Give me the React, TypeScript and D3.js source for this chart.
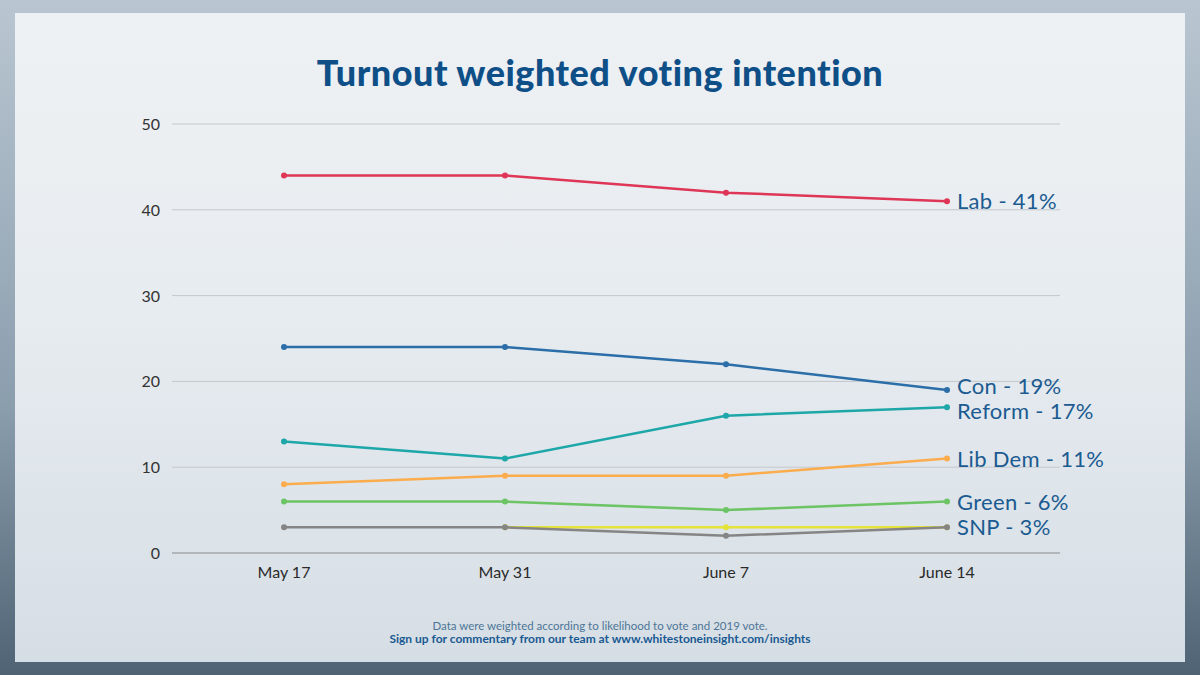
import { useEffect, useRef } from "react";
import * as d3 from "d3";

// Poll dates on the x axis
const dates = ["May 17", "May 31", "June 7", "June 14"];

// Party series (null = not polled that week)
const parties = ["Lab", "Con", "Reform", "Lib Dem", "Green", "SNP", "Other"];
const lab = [44, 44, 42, 41];
const con = [24, 24, 22, 19];
const reform = [13, 11, 16, 17];
const libDem = [8, 9, 9, 11];
const green = [6, 6, 5, 6];
const snp = [3, 3, 2, 3];
const other = [null, 3, 3, 3];
const partyColors = ["#df3556", "#2b6ea8", "#1ea7a8", "#fbac4c", "#6cc464", "#858585", "#e3e33a"];
const labelled = [true, true, true, true, true, true, false];

const yTicks = [0, 10, 20, 30, 40, 50];

const title = "Turnout weighted voting intention";
const footnote = "Data were weighted according to likelihood to vote and 2019 vote.";
const signup = "Sign up for commentary from our team at www.whitestoneinsight.com/insights";

function App() {
  const ref = useRef(null);

  useEffect(() => {
    const width = 1200;
    const height = 675;
    const font = "Lato, 'Open Sans', sans-serif";
    const values = [lab, con, reform, libDem, green, snp, other];

    const root = d3.select(ref.current);
    root.selectAll("*").remove();

    const svg = root
      .append("svg")
      .attr("width", width)
      .attr("height", height)
      .style("display", "block");

    // Background imitating the faded photo behind the panel
    const defs = svg.append("defs");
    const bg = defs.append("linearGradient").attr("id", "bg").attr("x1", 0).attr("y1", 0).attr("x2", 0).attr("y2", 1);
    bg.append("stop").attr("offset", "0%").attr("stop-color", "#b9c6d1");
    bg.append("stop").attr("offset", "60%").attr("stop-color", "#8b9eae");
    bg.append("stop").attr("offset", "100%").attr("stop-color", "#4f6374");
    const panel = defs.append("linearGradient").attr("id", "panel").attr("x1", 0).attr("y1", 0).attr("x2", 0).attr("y2", 1);
    panel.append("stop").attr("offset", "0%").attr("stop-color", "#eef1f4");
    panel.append("stop").attr("offset", "45%").attr("stop-color", "#e7ecf0");
    panel.append("stop").attr("offset", "100%").attr("stop-color", "#d6dee5");

    svg.append("rect").attr("width", width).attr("height", height).attr("fill", "url(#bg)");
    svg.append("rect")
      .attr("x", 15).attr("y", 13)
      .attr("width", 1170).attr("height", 649)
      .attr("fill", "url(#panel)");

    // Title
    svg.append("text")
      .attr("x", 600).attr("y", 86)
      .attr("text-anchor", "middle")
      .attr("font-family", font)
      .attr("font-weight", 900)
      .attr("font-size", 36)
      .attr("letter-spacing", 0.5)
      .attr("fill", "#0e4f87")
      .text(title);

    const x = d3.scalePoint().domain(dates).range([284, 947]);
    const y = d3.scaleLinear().domain([0, 50]).range([553, 124]);

    // Gridlines and y labels
    const grid = svg.append("g");
    grid.selectAll("line")
      .data(yTicks)
      .enter()
      .append("line")
      .attr("x1", 172).attr("x2", 1060)
      .attr("y1", (d) => y(d)).attr("y2", (d) => y(d))
      .attr("stroke", (d) => (d === 0 ? "#8c8c8c" : "#c4c8cc"))
      .attr("stroke-width", 1);
    grid.selectAll("text")
      .data(yTicks)
      .enter()
      .append("text")
      .attr("x", 160).attr("y", (d) => y(d) + 6)
      .attr("text-anchor", "end")
      .attr("font-family", font)
      .attr("font-size", 16)
      .attr("fill", "#333")
      .text((d) => d);

    // X labels
    svg.append("g")
      .selectAll("text")
      .data(dates)
      .enter()
      .append("text")
      .attr("x", (d) => x(d))
      .attr("y", 578)
      .attr("text-anchor", "middle")
      .attr("font-family", font)
      .attr("font-size", 16)
      .attr("fill", "#2a2a2a")
      .text((d) => d);

    // Lines, drawn bottom-up so the larger parties sit on top
    const line = d3
      .line()
      .defined((d) => d[1] != null)
      .x((d) => x(d[0]))
      .y((d) => y(d[1]));

    const order = [6, 5, 4, 3, 2, 1, 0];
    order.forEach((i) => {
      const pts = dates.map((d, j) => [d, values[i][j]]);
      svg.append("path")
        .attr("d", line(pts))
        .attr("fill", "none")
        .attr("stroke", partyColors[i])
        .attr("stroke-width", 2.5)
        .attr("stroke-linejoin", "round");
      svg.append("g")
        .selectAll("circle")
        .data(pts.filter((p) => p[1] != null))
        .enter()
        .append("circle")
        .attr("cx", (p) => x(p[0]))
        .attr("cy", (p) => y(p[1]))
        .attr("r", 3)
        .attr("fill", partyColors[i]);
    });

    // End labels, nudged apart where they would collide
    const last = dates[dates.length - 1];
    const minGap = 25;
    const labels = parties
      .map((p, i) => ({ name: p, value: values[i][dates.length - 1], ok: labelled[i] }))
      .filter((d) => d.ok)
      .map((d) => ({ ...d, pos: y(d.value) }))
      .sort((a, b) => a.pos - b.pos);
    for (let k = 1; k < labels.length; k++) {
      const gap = labels[k].pos - labels[k - 1].pos;
      if (gap < minGap) {
        const shift = (minGap - gap) / 2;
        labels[k - 1].pos -= shift;
        labels[k].pos += shift;
      }
    }
    svg.append("g")
      .selectAll("text")
      .data(labels)
      .enter()
      .append("text")
      .attr("x", x(last) + 10)
      .attr("y", (d) => d.pos + 8)
      .attr("font-family", font)
      .attr("font-size", 22)
      .attr("letter-spacing", 0.3)
      .attr("fill", "#1b5b91")
      .text((d) => `${d.name} - ${d.value}%`);

    // Footer
    svg.append("text")
      .attr("x", 600).attr("y", 630)
      .attr("text-anchor", "middle")
      .attr("font-family", font)
      .attr("font-size", 11.5)
      .attr("fill", "#4d7596")
      .text(footnote);
    svg.append("text")
      .attr("x", 600).attr("y", 643)
      .attr("text-anchor", "middle")
      .attr("font-family", font)
      .attr("font-weight", 700)
      .attr("font-size", 12)
      .attr("fill", "#195991")
      .text(signup);
  }, []);

  return <div ref={ref} style={{ position: "absolute", left: 0, top: 0 }}></div>;
}

export default App;
